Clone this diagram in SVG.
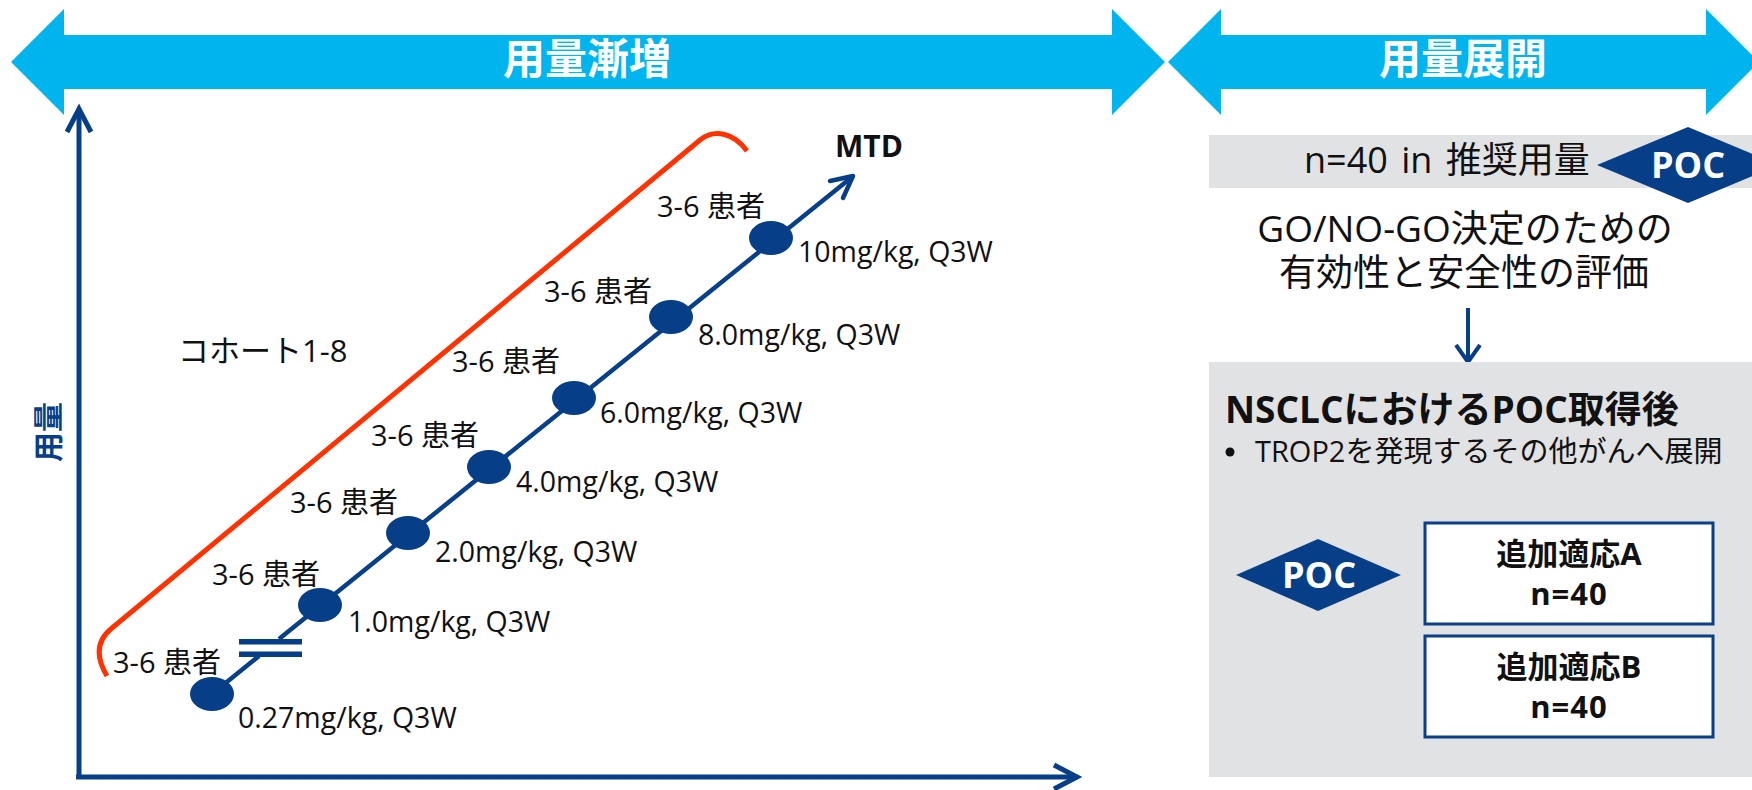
<svg xmlns="http://www.w3.org/2000/svg" width="1752" height="790" viewBox="0 0 1752 790">
<defs>
<style>
text{font-family:"Open Sans","Noto Sans CJK JP",sans-serif;fill:#111}
.b{font-weight:bold}
.w{fill:#fff}
.band{fill:#00B4EE}
.gray{fill:#E1E2E4}
.navy{fill:#063F88}
.ax{stroke:#063F88;stroke-width:5;fill:none;stroke-linecap:butt}
.ln{stroke:#073F88;stroke-width:4.5;fill:none}
.dot{fill:#063F88}
.pt{font-size:29px}
.lbl{font-size:28.5px}
.box{fill:#fff;stroke:#0B3F88;stroke-width:3}
</style>
</defs>

<g id="phase-escalation">
<polygon class="band" points="11,62 64,9 64,35 1112,35 1112,9 1165,62 1112,115 1112,89 64,89 64,115"/>
<text class="b w" x="587" y="74" font-size="42" text-anchor="middle">用量漸増</text>
</g>

<g id="phase-expansion">
<polygon class="band" points="1168,62 1221,9 1221,35 1706,35 1706,9 1759,62 1706,115 1706,89 1221,89 1221,115"/>
<text class="b w" x="1463" y="74" font-size="42" text-anchor="middle">用量展開</text>
</g>

<g id="axes">
<polyline class="ax" points="79,777 79,109"/>
<polyline class="ax" points="67,132 79,109 91,132"/>
<polyline class="ax" points="76,777 1076,777"/>
<polyline class="ax" points="1054,765 1077,777 1054,789"/>
<text class="b" transform="translate(48,432) rotate(-90)" x="0" y="11" font-size="30" text-anchor="middle" style="fill:#063F88">用量</text>
</g>

<g id="cohort-bracket">
<path d="M107,676 C95,656 97,640 112,628 L700,140 C714,129 733,132 747,151" fill="none" stroke="#FF3300" stroke-width="5"/>
<text x="178" y="362" font-size="31">コホート1-8</text>
</g>

<g id="connectors">
<line class="ln" x1="212" y1="694" x2="259" y2="656"/>
<line class="ln" x1="279" y1="639" x2="852" y2="177"/>
<polyline class="ln" points="830,181 853,176 843,198" stroke-linecap="round" stroke-linejoin="round"/>
<rect class="navy" x="239" y="639" width="63" height="5.5"/>
<rect class="navy" x="239" y="651.5" width="63" height="5.5"/>
<line x1="1468" y1="308" x2="1468" y2="360" stroke="#063F88" stroke-width="4"/>
<polyline points="1456,345 1468,362 1480,345" fill="none" stroke="#063F88" stroke-width="4"/>
</g>

<g id="dose-0">
<ellipse class="dot" cx="212" cy="694" rx="22" ry="17"/>
<text class="pt" x="113" y="673">3-6 患者</text>
<text class="lbl" x="238" y="728">0.27mg/kg, Q3W</text>
</g>
<g id="dose-1">
<ellipse class="dot" cx="320" cy="605" rx="22" ry="17"/>
<text class="pt" x="212" y="585">3-6 患者</text>
<text class="lbl" x="348" y="632">1.0mg/kg, Q3W</text>
</g>
<g id="dose-2">
<ellipse class="dot" cx="408" cy="533" rx="22" ry="17"/>
<text class="pt" x="290" y="513">3-6 患者</text>
<text class="lbl" x="435" y="562">2.0mg/kg, Q3W</text>
</g>
<g id="dose-3">
<ellipse class="dot" cx="489" cy="467" rx="22" ry="17"/>
<text class="pt" x="371" y="446">3-6 患者</text>
<text class="lbl" x="516" y="492">4.0mg/kg, Q3W</text>
</g>
<g id="dose-4">
<ellipse class="dot" cx="574" cy="398" rx="22" ry="17"/>
<text class="pt" x="452" y="372">3-6 患者</text>
<text class="lbl" x="600" y="423">6.0mg/kg, Q3W</text>
</g>
<g id="dose-5">
<ellipse class="dot" cx="671" cy="317" rx="22" ry="17"/>
<text class="pt" x="544" y="302">3-6 患者</text>
<text class="lbl" x="698" y="345">8.0mg/kg, Q3W</text>
</g>
<g id="dose-6">
<ellipse class="dot" cx="771" cy="238" rx="22" ry="17"/>
<text class="pt" x="657" y="217">3-6 患者</text>
<text class="lbl" x="798" y="262">10mg/kg, Q3W</text>
</g>
<g id="mtd">
<text class="b" x="835" y="157" font-size="30">MTD</text>
</g>

<g id="recommended-dose">
<rect class="gray" x="1209" y="135" width="543" height="53"/>
<text x="1304" y="173" font-size="36" word-spacing="4">n=40 in 推奨用量</text>
<polygon class="navy" points="1597,165 1688,127 1779,165 1688,203"/>
<text class="b w" x="1688" y="178" font-size="36" text-anchor="middle">POC</text>
</g>

<g id="go-nogo">
<text x="1465" y="242" font-size="37" text-anchor="middle">GO/NO-GO決定のための</text>
<text x="1464" y="286" font-size="37" text-anchor="middle">有効性と安全性の評価</text>
</g>

<g id="after-poc">
<rect class="gray" x="1209" y="362" width="543" height="415"/>
<text class="b" x="1225" y="423" font-size="37">NSCLCにおけるPOC取得後</text>
<circle cx="1230" cy="452" r="4.5" fill="#111"/>
<text x="1255" y="462" font-size="29">TROP2を発現するその他がんへ展開</text>
<polygon class="navy" points="1236,575 1318,539 1401,575 1318,611"/>
<text class="b w" x="1319" y="588" font-size="36" text-anchor="middle">POC</text>
</g>

<g id="indication-a">
<rect class="box" x="1425" y="523" width="288" height="101"/>
<text class="b" x="1569" y="565" font-size="31" text-anchor="middle">追加適応A</text>
<text class="b" x="1569" y="605" font-size="31" text-anchor="middle" letter-spacing="1">n=40</text>
</g>
<g id="indication-b">
<rect class="box" x="1425" y="636" width="288" height="101"/>
<text class="b" x="1569" y="678" font-size="31" text-anchor="middle">追加適応B</text>
<text class="b" x="1569" y="718" font-size="31" text-anchor="middle" letter-spacing="1">n=40</text>
</g>
</svg>
